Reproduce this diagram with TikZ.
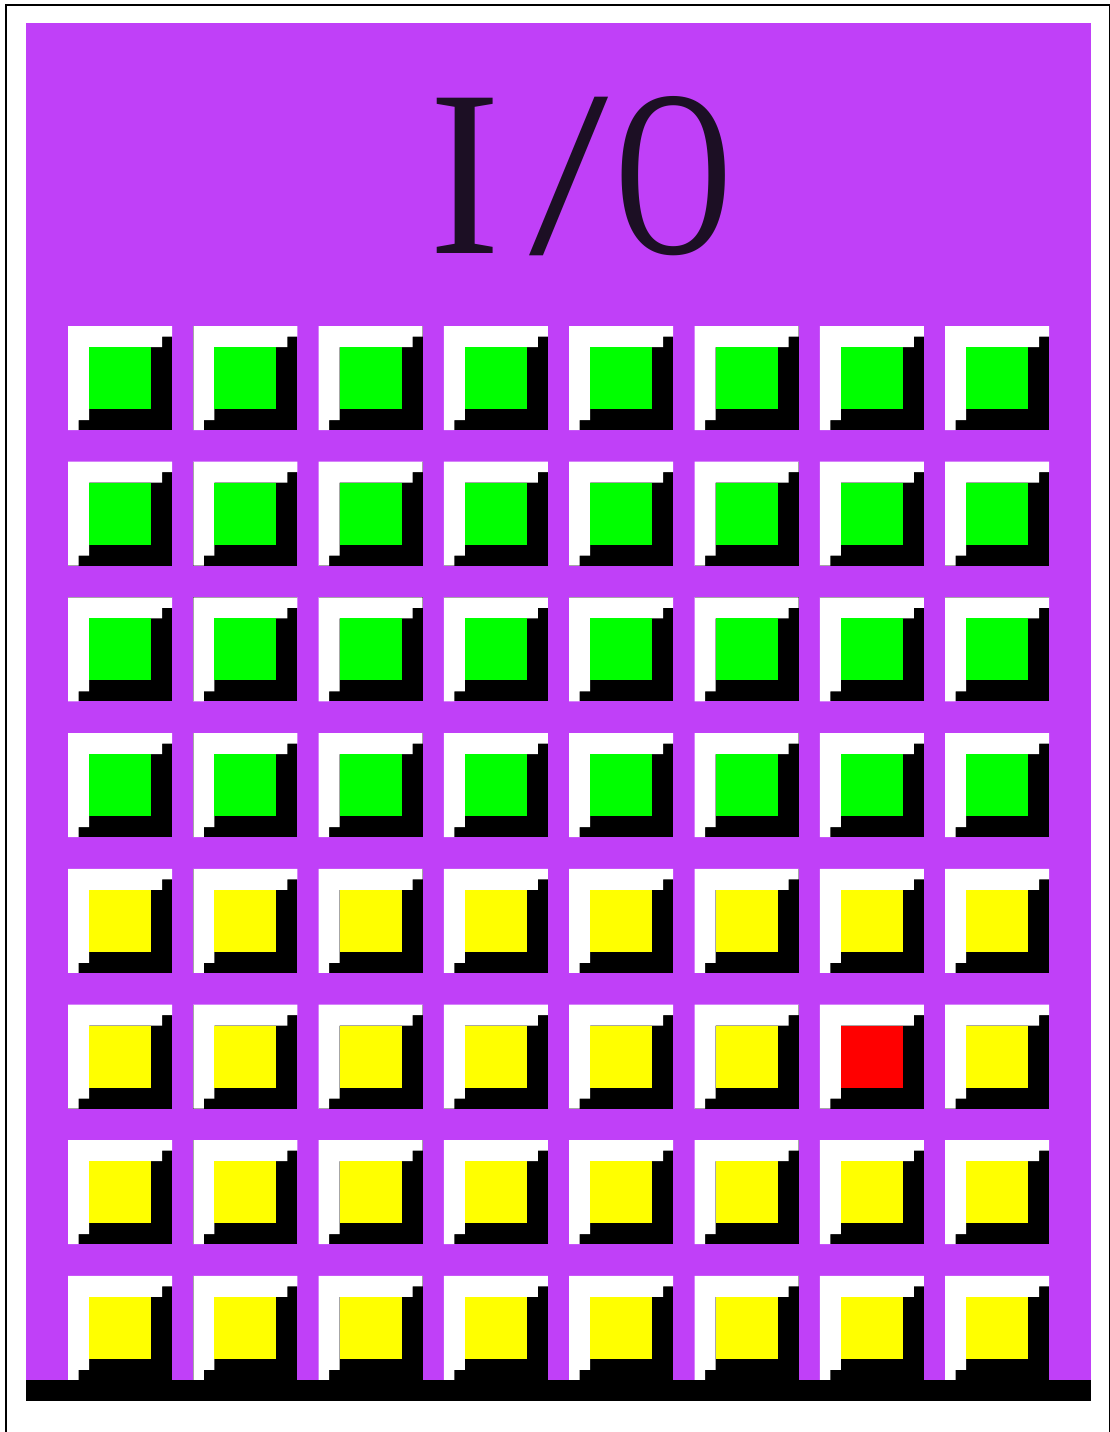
\documentclass[tikz,border=0pt]{standalone}
\usepackage{fontspec}
\usepackage{graphicx}
\usetikzlibrary{calc}
\newfontfamily\titlefont{Liberation Serif}
\definecolor{panel}{HTML}{C040F8}
\definecolor{ink}{HTML}{1C0F24}
\definecolor{ledgreen}{HTML}{00FF00}
\definecolor{ledyellow}{HTML}{FFFF00}
\definecolor{ledred}{HTML}{FF0000}
\tikzset{hilite/.style={fill=white},
  lowlite/.style={fill=black},
  frame/.style={draw=black, line width=1pt}}

\begin{document}
\begin{tikzpicture}[x=0.5pt, y=-0.5pt]
\useasboundingbox (0,0) rectangle (1110,1432);
\clip (0,0) rectangle (1110,1432);
\draw[frame] (5.5,5) rectangle (1110,1460);
\fill[panel] (26,23) rectangle (1091,1380);
\fill[black] (26,1380) rectangle (1091,1401);
\node[font=\titlefont\fontsize{118.6}{118.6}\selectfont, text=ink,
  anchor=base west, inner sep=0pt] (title) at (429.1,253)
  {\scalebox{0.9}[1]{I}\kern14.7pt\scalebox{1.2}[1]{/}\kern3.4pt\scalebox{0.68}[1]{O}};
% the 8 x 8 lamps, one red
\foreach \r in {0,...,7}
  \foreach \c in {0,...,7} {
    \ifnum\r<4 \def\led{ledgreen}\else\def\led{ledyellow}\fi
    \ifnum\r=5 \ifnum\c=6 \def\led{ledred}\fi\fi
    \begin{scope}[shift={(68+125.3*\c,326+135.7*\r)}]
      \fill[lowlite] (0,0) rectangle (104,104);
      \fill[hilite] (0,0) -- (104,0) -- (104,10.5) -- (94,10.5) -- (94,21)
        -- (21,21) -- (21,94) -- (10.5,94) -- (10.5,104) -- (0,104) -- cycle;
      \fill[\led] (21,21) rectangle (83,83);
    \end{scope}
  }
\end{tikzpicture}
\end{document}
